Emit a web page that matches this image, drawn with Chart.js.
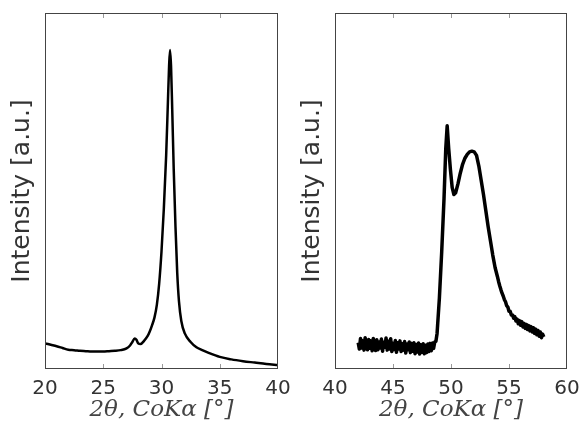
<!DOCTYPE html>
<html>
<head>
<meta charset="utf-8">
<script src="https://cdn.jsdelivr.net/npm/chart.js@4/dist/chart.umd.min.js"></script>
<style>
  html, body { margin: 0; padding: 0; background: #fff; }
  #wrap { position: relative; width: 579px; height: 431px; }
  canvas { position: absolute; top: 0; }
  #left { left: 0; }
  #right { left: 290px; }
</style>
</head>
<body>
<div id="wrap">
  <canvas id="left" width="290" height="431"></canvas>
  <canvas id="right" width="289" height="431"></canvas>
</div>
<script>
// left panel: main peak near 30.7 deg
const leftAngle = [20, 20.5, 21, 21.5, 22, 22.5, 23, 23.5, 24, 24.5, 25, 25.5, 26, 26.5, 27, 27.3, 27.5, 27.7, 27.85, 28, 28.2, 28.5, 28.8, 29, 29.2, 29.4, 29.6, 29.8, 30, 30.2, 30.4, 30.55, 30.65, 30.73, 30.82, 30.92, 31.05, 31.2, 31.35, 31.5, 31.7, 32, 32.5, 33, 33.5, 34, 35, 36, 37, 38, 39, 40];
const leftIntensity = [7.2, 6.8, 6.4, 5.9, 5.4, 5.3, 5.1, 5.0, 4.9, 4.9, 4.9, 5.0, 5.1, 5.3, 5.8, 6.6, 7.6, 8.6, 8.2, 7.2, 7.0, 7.9, 9.2, 10.6, 12.4, 14.5, 18, 24, 33, 45, 60, 75, 85, 89.6, 85, 73, 56, 40, 27, 19, 13.5, 10, 7.6, 6.1, 5.3, 4.6, 3.4, 2.7, 2.2, 1.8, 1.4, 1.1];

// right panel: sharp peak at 49.7 and broad hump at 51.8 (noisy)
const rightAngle = [42.0, 42.1, 42.2, 42.3, 42.4, 42.5, 42.6, 42.7, 42.8, 42.9, 43.0, 43.1, 43.2, 43.3, 43.4, 43.5, 43.6, 43.7, 43.8, 43.9, 44.0, 44.1, 44.2, 44.3, 44.4, 44.5, 44.6, 44.7, 44.8, 44.9, 45.0, 45.1, 45.2, 45.3, 45.4, 45.5, 45.6, 45.7, 45.8, 45.9, 46.0, 46.1, 46.2, 46.3, 46.4, 46.5, 46.6, 46.7, 46.8, 46.9, 47.0, 47.1, 47.2, 47.3, 47.4, 47.5, 47.6, 47.7, 47.8, 47.9, 48.0, 48.1, 48.2, 48.3, 48.4, 48.5, 48.6, 48.7, 48.8, 49.0, 49.2, 49.4, 49.55, 49.67, 49.8, 49.95, 50.1, 50.25, 50.4, 50.6, 50.8, 51.0, 51.2, 51.4, 51.6, 51.8, 52.0, 52.2, 52.4, 52.6, 52.8, 53.0, 53.2, 53.4, 53.6, 53.8, 54.0, 54.1, 54.2, 54.3, 54.4, 54.5, 54.6, 54.7, 54.8, 54.9, 55.0, 55.1, 55.2, 55.3, 55.4, 55.5, 55.6, 55.7, 55.8, 55.9, 56.0, 56.1, 56.2, 56.3, 56.4, 56.5, 56.6, 56.7, 56.8, 56.9, 57.0, 57.1, 57.2, 57.3, 57.4, 57.5, 57.6, 57.7, 57.8, 57.9, 58.0];
const rightIntensity = [7.4, 5.6, 8.6, 5.9, 7.9, 5.3, 8.8, 6.4, 5.4, 8.3, 5.8, 7.9, 5.1, 8.6, 6.6, 5.2, 8.2, 5.4, 7.6, 5.9, 8.4, 5.0, 7.5, 6.1, 8.7, 5.3, 7.8, 5.6, 8.5, 4.9, 7.2, 5.5, 8.0, 4.7, 7.4, 5.6, 7.9, 4.9, 7.1, 5.3, 7.7, 4.5, 7.0, 5.4, 7.6, 4.6, 7.2, 5.0, 7.4, 4.3, 6.9, 4.8, 7.3, 4.2, 6.8, 4.7, 7.1, 4.3, 6.7, 4.6, 7.0, 4.9, 7.2, 5.1, 7.3, 5.8, 7.6, 7.8, 10, 20, 33, 48, 62, 68.3, 62, 56, 51, 49, 49.5, 52, 55, 57.5, 59.2, 60.3, 61, 61.2, 61, 60, 57, 53, 49, 44.5, 40, 36, 32, 28.5, 26, 24.6, 23.4, 22.3, 21.3, 20.5, 19.5, 18.9, 17.8, 17.4, 16.2, 16.2, 15.2, 15.2, 14.3, 14.7, 13.5, 14.0, 12.7, 13.6, 12.3, 13.3, 11.8, 12.8, 11.4, 12.5, 11.1, 12.2, 10.7, 11.9, 10.4, 11.6, 10.0, 11.2, 9.6, 10.8, 9.2, 10.4, 8.8, 9.8, 9.0];

const leftTicks = [20, 25, 30, 35, 40];
const rightTicks = [40, 45, 50, 55, 60];

const xTitle = '2\u03B8, CoK\u03B1 [\u00B0]';
const yTitle = 'Intensity [a.u.]';

// box round the plot plus small inward ticks, matplotlib style
const framePlugin = {
  id: 'frame',
  afterDatasetsDraw(chart) {
    const ctx = chart.ctx, a = chart.chartArea, x = chart.scales.x;
    ctx.save();
    ctx.strokeStyle = '#999';
    ctx.lineWidth = 1;
    x.ticks.forEach(t => {
      const px = Math.round(x.getPixelForValue(t.value)) + 0.5;
      if (px <= a.left + 2 || px >= a.right - 2) return;
      ctx.beginPath();
      ctx.moveTo(px, a.top); ctx.lineTo(px, a.top + 5);
      ctx.moveTo(px, a.bottom); ctx.lineTo(px, a.bottom - 5);
      ctx.stroke();
    });
    ctx.strokeStyle = '#444';
    ctx.strokeRect(Math.round(a.left) + 0.5, Math.round(a.top) + 0.5, Math.round(a.width) - 1, Math.round(a.height) - 1);
    ctx.restore();
  }
};

function makeChart(id, angle, intensity, ticks, lineWidth, smooth) {
  const pts = angle.map((v, i) => ({x: v, y: intensity[i]}));
  return new Chart(document.getElementById(id), {
    type: 'line',
    data: {
      datasets: [{
        data: pts,
        borderColor: '#000',
        borderWidth: lineWidth,
        borderJoinStyle: 'round',
        pointRadius: 0,
        tension: smooth ? 0.3 : 0,
        cubicInterpolationMode: smooth ? 'monotone' : 'default',
        fill: false
      }]
    },
    options: {
      responsive: false,
      animation: false,
      layout: { padding: { top: 13, right: 12, left: 0, bottom: 0 } },
      plugins: { legend: { display: false }, tooltip: { enabled: false } },
      scales: {
        x: {
          type: 'linear',
          min: ticks[0],
          max: ticks[ticks.length - 1],
          afterBuildTicks: s => { s.ticks = ticks.map(v => ({value: v})); },
          afterFit: s => { s.height = 62; s.paddingLeft = 0; s.paddingRight = 0; },
          grid: { display: false, drawTicks: false },
          border: { display: false },
          ticks: { color: '#333', padding: 8, font: { family: 'DejaVu Sans', size: 20 } },
          title: {
            display: true,
            text: xTitle,
            color: '#444',
            padding: { top: 0, bottom: 7 },
            font: { family: 'DejaVu Serif', style: 'italic', size: 23 }
          }
        },
        y: {
          min: 0,
          max: 100,
          afterFit: s => { s.width = 45; s.paddingTop = 0; s.paddingBottom = 0; },
          grid: { display: false, drawTicks: false },
          border: { display: false },
          ticks: { display: false },
          title: {
            display: true,
            text: yTitle,
            color: '#333',
            padding: { top: 7, bottom: 0 },
            font: { family: 'DejaVu Sans', size: 25 }
          }
        }
      }
    },
    plugins: [framePlugin]
  });
}

makeChart('left', leftAngle, leftIntensity, leftTicks, 2.5, true);
makeChart('right', rightAngle, rightIntensity, rightTicks, 3.5, false);
</script>
</body>
</html>
